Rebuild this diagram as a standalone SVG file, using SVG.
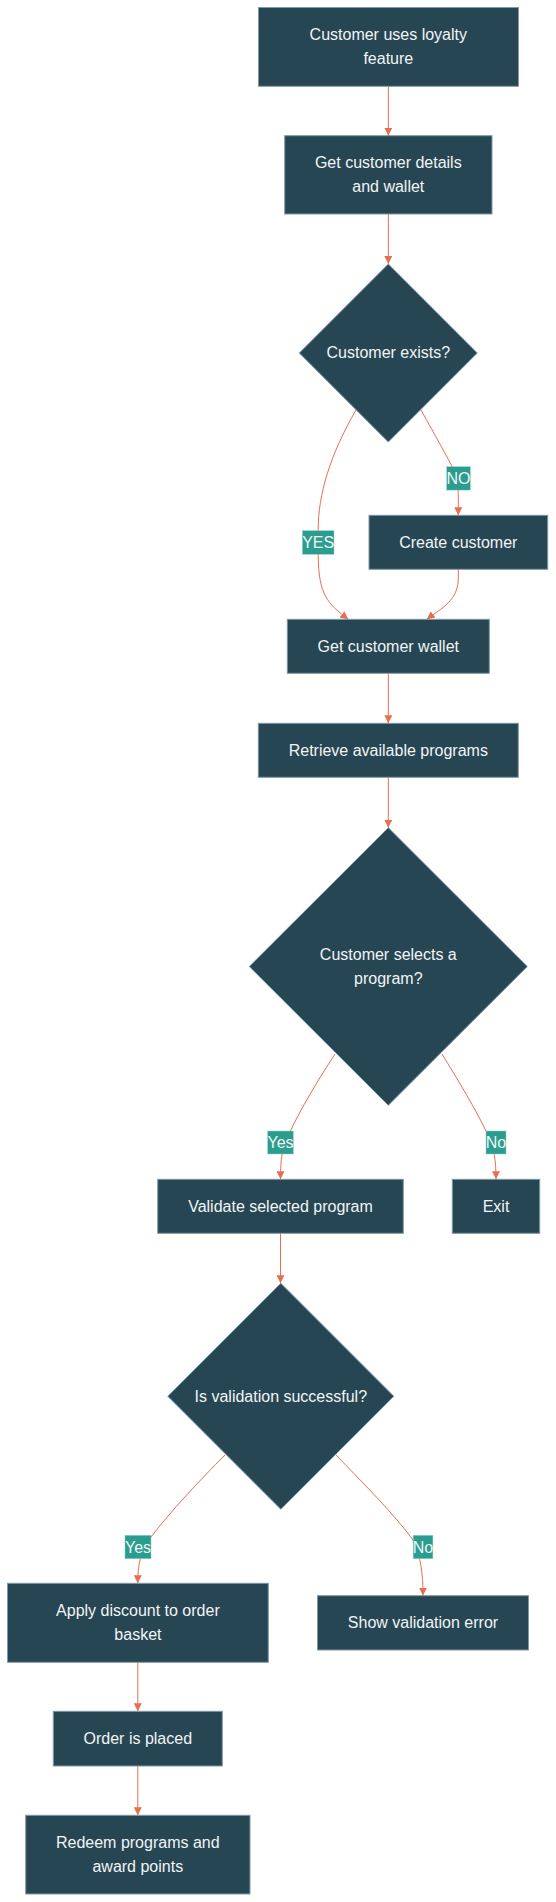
<svg xmlns="http://www.w3.org/2000/svg" width="556" height="1902" viewBox="0 0 556 1902">
<style>
.node{fill:#264653;stroke:#7f9aa5;stroke-width:1}
.t{font-family:"Liberation Sans",Arial,sans-serif;font-size:16px;fill:#f2f4f5;text-anchor:middle}
.e{fill:none;stroke:#E76F51;stroke-width:1}
.lb{fill:#2A9D8F;stroke:#8fd0c6;stroke-width:0.5}
</style>
<defs>
<marker id="arr" viewBox="0 0 10 10" refX="10" refY="5" markerUnits="userSpaceOnUse" markerWidth="8" markerHeight="8" orient="auto">
<path d="M0,0 L10,5 L0,10 z" fill="#E76F51"/>
</marker>
</defs>
<rect width="556" height="1902" fill="#ffffff"/>
<g id="edges">
<path class="e" marker-end="url(#arr)" d="M388.3,86.3 L388.3,135.7"/>
<path class="e" marker-end="url(#arr)" d="M388.3,214 L388.3,264"/>
<path class="e" marker-end="url(#arr)" d="M356,410 C330,455 318,495 318.2,530 L318.2,556 C318.5,595 328,604 348.3,619.3"/>
<path class="e" marker-end="url(#arr)" d="M421,410 C435,435 450,462 456,474 C459,486 458.3,500 458.3,515.3"/>
<path class="e" marker-end="url(#arr)" d="M458.3,569.3 L458.3,578 C458.5,600 442,608 426.7,619.3"/>
<path class="e" marker-end="url(#arr)" d="M388.3,673.3 L388.3,723.3"/>
<path class="e" marker-end="url(#arr)" d="M388.3,777.3 L388.3,827.7"/>
<path class="e" marker-end="url(#arr)" d="M335,1054 C318,1080 300,1110 290,1132 C282,1145 280.5,1160 280.5,1179.3"/>
<path class="e" marker-end="url(#arr)" d="M442,1054 C458,1080 476,1110 486,1131 C494,1145 496,1160 496,1179.3"/>
<path class="e" marker-end="url(#arr)" d="M280.5,1233.3 L280.5,1283.3"/>
<path class="e" marker-end="url(#arr)" d="M225,1455 C200,1480 170,1512 151,1537 C140,1552 137.8,1565 137.8,1583.3"/>
<path class="e" marker-end="url(#arr)" d="M336,1455 C362,1482 395,1515 413,1540 C421,1556 423,1575 423,1595.7"/>
<path class="e" marker-end="url(#arr)" d="M137.8,1662.3 L137.8,1711.3"/>
<path class="e" marker-end="url(#arr)" d="M137.8,1766 L137.8,1815.3"/>
</g>
<g id="edge-labels">
<g id="lbl-yes1"><rect class="lb" x="302.4" y="530.7" width="31.6" height="23.6"/><text class="t" x="318.2" y="548">YES</text></g>
<g id="lbl-no1"><rect class="lb" x="446.7" y="466.7" width="23.6" height="23.4"/><text class="t" x="458.5" y="484">NO</text></g>
<g id="lbl-yes2"><rect class="lb" x="267.7" y="1131" width="25.6" height="23"/><text class="t" x="280.5" y="1148">Yes</text></g>
<g id="lbl-no2"><rect class="lb" x="486" y="1131" width="20" height="23"/><text class="t" x="496" y="1148">No</text></g>
<g id="lbl-yes3"><rect class="lb" x="125" y="1535.3" width="26" height="23.4"/><text class="t" x="138" y="1552.5">Yes</text></g>
<g id="lbl-no3"><rect class="lb" x="413.2" y="1535.3" width="19.7" height="23.4"/><text class="t" x="423" y="1552.5">No</text></g>
</g>
<g id="n-start"><rect class="node" x="258.5" y="7.5" width="260" height="78.8"/><text class="t" x="388.3" y="40.3">Customer uses loyalty</text><text class="t" x="388.3" y="64.3">feature</text></g>
<g id="n-details"><rect class="node" x="284.7" y="135.7" width="207.3" height="78.3"/><text class="t" x="388.3" y="168.3">Get customer details</text><text class="t" x="388.3" y="192.3">and wallet</text></g>
<g id="n-exists"><polygon class="node" points="388.3,264 477.3,353 388.3,442 299.3,353"/><text class="t" x="388.3" y="358">Customer exists?</text></g>
<g id="n-create"><rect class="node" x="369" y="515.3" width="178.7" height="54"/><text class="t" x="458.3" y="547.8">Create customer</text></g>
<g id="n-wallet"><rect class="node" x="287.3" y="619.3" width="202" height="54"/><text class="t" x="388.3" y="651.8">Get customer wallet</text></g>
<g id="n-retrieve"><rect class="node" x="258.3" y="723.3" width="260" height="54"/><text class="t" x="388.3" y="755.8">Retrieve available programs</text></g>
<g id="n-selects"><polygon class="node" points="388.3,827.7 527.3,966.5 388.3,1105.3 249.3,966.5"/><text class="t" x="388.3" y="960">Customer selects a</text><text class="t" x="388.3" y="984">program?</text></g>
<g id="n-validate"><rect class="node" x="157.7" y="1179.3" width="245.6" height="54"/><text class="t" x="280.5" y="1211.8">Validate selected program</text></g>
<g id="n-exit"><rect class="node" x="452.3" y="1179.3" width="87.4" height="54"/><text class="t" x="496" y="1211.8">Exit</text></g>
<g id="n-valid"><polygon class="node" points="280.8,1283.3 393.8,1396.3 280.8,1509.3 167.8,1396.3"/><text class="t" x="280.8" y="1402">Is validation successful?</text></g>
<g id="n-apply"><rect class="node" x="7.5" y="1583.3" width="260.8" height="79"/><text class="t" x="137.9" y="1616.3">Apply discount to order</text><text class="t" x="137.9" y="1640.3">basket</text></g>
<g id="n-error"><rect class="node" x="317.5" y="1595.7" width="211" height="54.3"/><text class="t" x="423" y="1628.3">Show validation error</text></g>
<g id="n-order"><rect class="node" x="53.3" y="1711.3" width="169" height="54.7"/><text class="t" x="137.8" y="1744.2">Order is placed</text></g>
<g id="n-redeem"><rect class="node" x="25.7" y="1815.3" width="224.3" height="78.7"/><text class="t" x="137.8" y="1848.2">Redeem programs and</text><text class="t" x="137.8" y="1872.2">award points</text></g>
</svg>
